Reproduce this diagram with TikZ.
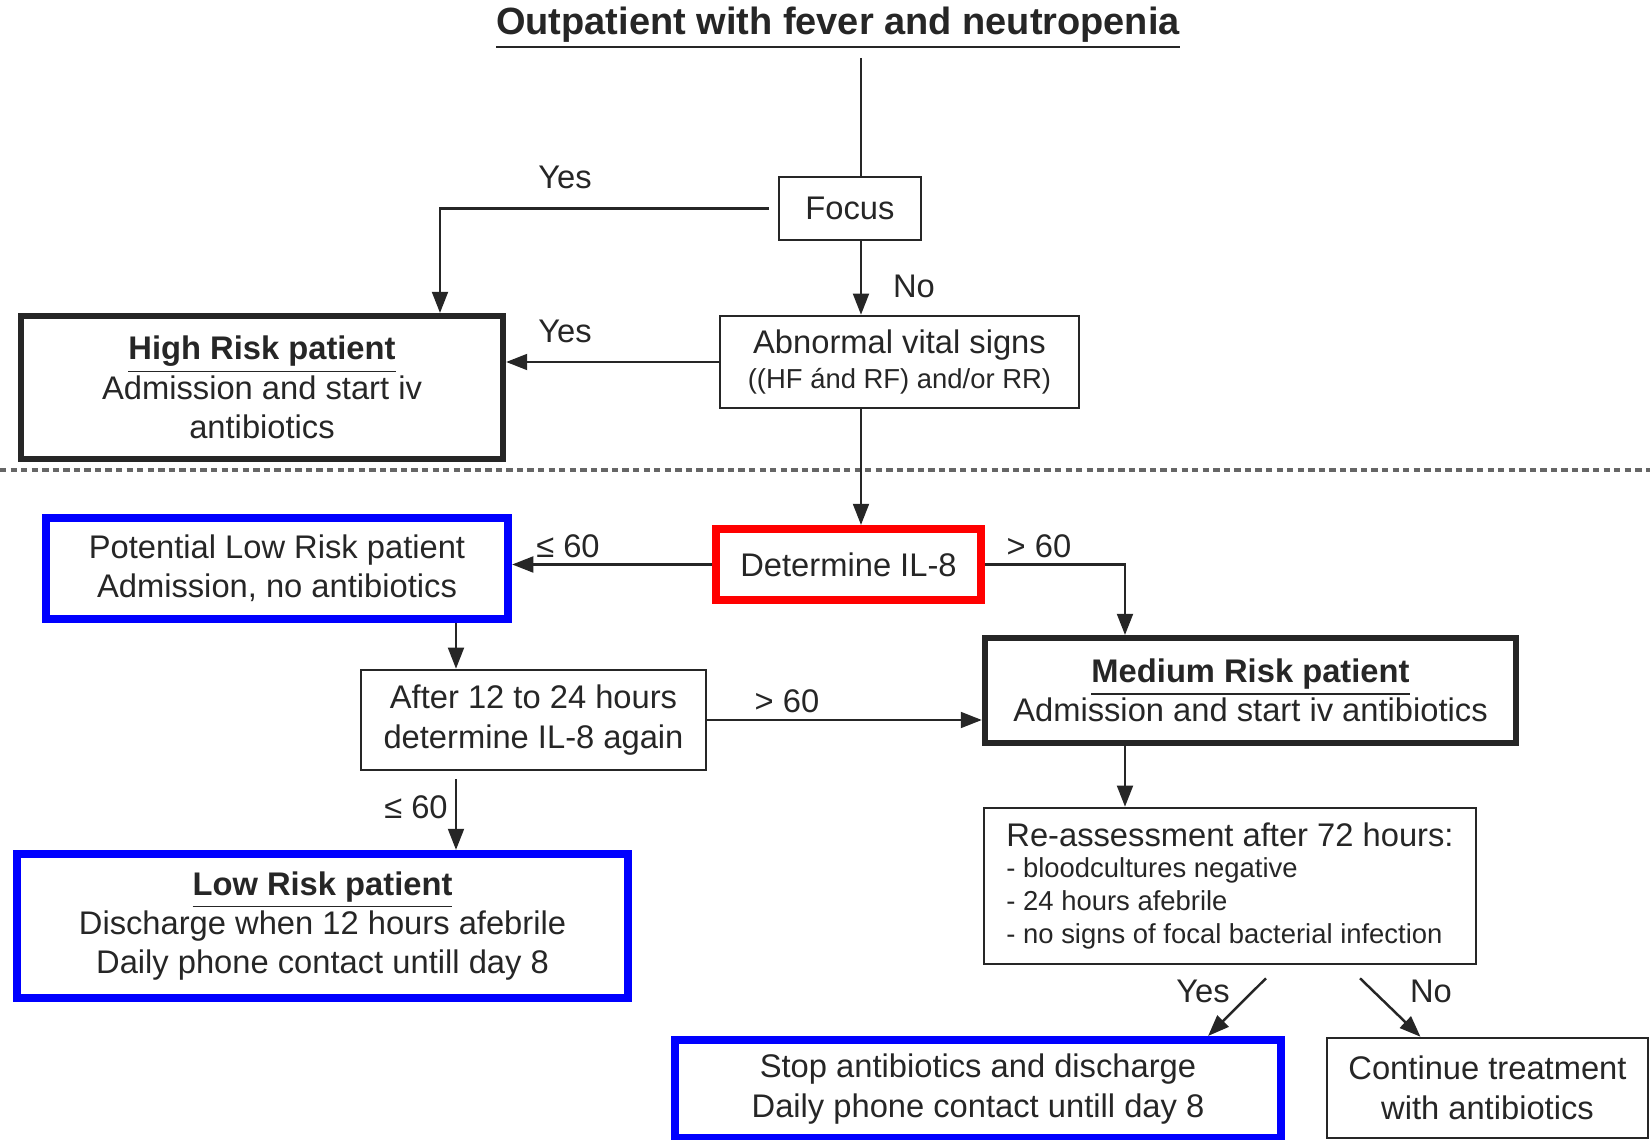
\documentclass[tikz,border=0pt]{standalone}
\usepackage{fontspec}
\setmainfont{Liberation Sans}
\usetikzlibrary{positioning,arrows.meta}

\newcommand\smallsize{\fontsize{7.8}{9.5}\selectfont}

\begin{document}
\begin{tikzpicture}[x=0.01cm, y=-0.01cm,
  % Node Styles
  pbox/.style={rectangle, draw=black!85, line width=0.7pt, align=center, inner sep=0pt, text=black!85},
  thickbox/.style={pbox, line width=1.7pt},
  bluebox/.style={pbox, draw=blue, line width=2.3pt},
  redbox/.style={pbox, draw=red, line width=2.3pt},
  lbl/.style={inner sep=0pt, text=black!85},
  % Arrow Styles
  solidarrow/.style={-{Triangle[length=6pt,width=4.5pt]}, line width=0.7pt, draw=black!85},
  plainline/.style={line width=0.7pt, draw=black!85},
  sepline/.style={line width=1pt, draw=black!60, dash pattern=on 1.8pt off 1.2pt},
]
\tikzset{font=\fontsize{9.3}{11.2}\selectfont}
\useasboundingbox (0,0) rectangle (1650,1140);

% Flow chart: outpatient with fever and neutropenia

\node[lbl, font=\fontsize{10.8}{13}\selectfont\bfseries] (title) at (838,28) {\underline{Outpatient with fever and neutropenia}};

\coordinate (spine) at (861,0);
\coordinate (hcol) at (440,0);
\coordinate (lcol) at (456,0);
\coordinate (rcol) at (1125,0);

\node[pbox, minimum width=1.42cm, minimum height=0.63cm] (focus) at (850,208.5) {Focus};
\node[pbox, minimum width=3.59cm, minimum height=0.92cm] (abnormal) at (899.5,362) {Abnormal vital signs\\[-1.4pt]{\smallsize ((HF ánd RF) and/or RR)}};
\node[thickbox, minimum width=4.82cm, minimum height=1.43cm] (highrisk) at (262,387.5) {\textbf{\underline{High Risk patient}}\\Admission and start iv\\antibiotics};

\draw[sepline] (0,470) -- (1650,470);

\node[redbox, minimum width=2.65cm, minimum height=0.71cm] (il8) at (848.5,564.5) {Determine IL-8};
\node[bluebox, minimum width=4.62cm, minimum height=1.01cm] (potential) at (277,568.5) {Potential Low Risk patient\\Admission, no antibiotics};
\node[thickbox, minimum width=5.31cm, minimum height=1.05cm] (medium) at (1250.5,690.5) {\textbf{\underline{Medium Risk patient}}\\Admission and start iv antibiotics};
\node[pbox, minimum width=3.45cm, minimum height=1.00cm] (after) at (533.5,720) {After 12 to 24 hours\\determine IL-8 again};
\node[bluebox, minimum width=6.11cm, minimum height=1.44cm] (lowrisk) at (322.5,926) {\textbf{\underline{Low Risk patient}}\\Discharge when 12 hours afebrile\\Daily phone contact untill day 8};
\node[pbox, align=left, minimum width=4.92cm, minimum height=1.56cm] (reassess) at (1230,886) {Re-assessment after 72 hours:\\[-2.4pt]\smallsize - bloodcultures negative\\[-1.8pt]\smallsize - 24 hours afebrile\\[-1.8pt]\smallsize - no signs of focal bacterial infection};
\node[bluebox, minimum width=6.06cm, minimum height=0.98cm] (stop) at (978,1089) {Stop antibiotics and discharge\\Daily phone contact untill day 8};
\node[pbox, minimum width=3.21cm, minimum height=1.00cm] (cont) at (1487.5,1088) {Continue treatment\\with antibiotics};

% connectors
\draw[plainline] ([yshift=-0.08cm]title.south -| spine) -- (focus.north -| spine);
\draw[solidarrow] ([xshift=-0.09cm]focus.west) -| (highrisk.north -| hcol);
\draw[solidarrow] (focus.south -| spine) -- (abnormal.north -| spine);
\draw[solidarrow] (abnormal.west) -- (abnormal.west -| highrisk.east);
\draw[solidarrow] (abnormal.south -| spine) -- (il8.north -| spine);
\draw[solidarrow] (il8.west) -- (il8.west -| potential.east);
\draw[solidarrow] (il8.east) -| (medium.north -| rcol);
\draw[solidarrow] (potential.south -| lcol) -- (after.north -| lcol);
\draw[solidarrow] (after.east) -- (after.east -| medium.west);
\draw[solidarrow] ([yshift=-0.08cm]after.south -| lcol) -- (lowrisk.north -| lcol);
\draw[solidarrow] (medium.south -| rcol) -- (reassess.north -| rcol);
\draw[solidarrow] ([shift={(36,13)}]reassess.south) -- ([xshift=2.3cm]stop.north);
\draw[solidarrow] ([shift={(130,13)}]reassess.south) -- ([xshift=-0.67cm]cont.north);

% labels
\node[lbl] (yesfocus) at (565,177) {Yes};
\node[lbl] (nofocus) at (914,286) {No};
\node[lbl] (yesvital) at (565,331) {Yes};
\node[lbl] (lelow) at (568,546) {≤ 60};
\node[lbl] (gtmed) at (1039,546) {> 60};
\node[lbl] (gtagain) at (787,701) {> 60};
\node[lbl] (leagain) at (416,807) {≤ 60};
\node[lbl] (yesstop) at (1203,991) {Yes};
\node[lbl] (nocont) at (1431,991) {No};

\end{tikzpicture}
\end{document}
